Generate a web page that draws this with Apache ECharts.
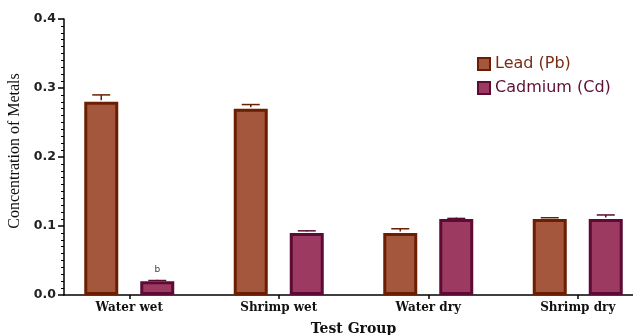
<!DOCTYPE html>
<html>
<head>
<meta charset="utf-8">
<script src="https://cdn.jsdelivr.net/npm/echarts@6/dist/echarts.min.js"></script>
<style>
  html, body { margin: 0; padding: 0; background: #fff; }
  #chart { width: 633px; height: 335px; }
</style>
</head>
<body>
<div id="chart"></div>
<script>
// Metal concentrations per test group (mean and upper error)
const groups = ['Water wet', 'Shrimp wet', 'Water dry', 'Shrimp dry'];
const leadValues = [0.28, 0.27, 0.09, 0.11];
const leadErrors = [0.010, 0.006, 0.006, 0.002];
const cadmiumValues = [0.02, 0.09, 0.11, 0.11];
const cadmiumErrors = [0.001, 0.003, 0.001, 0.006];
const cadmiumMarks = ['b', '', '', ''];
const yTicks = [0, 0.1, 0.2, 0.3, 0.4];

const LEAD_FILL = '#a5573d', LEAD_EDGE = '#6b1f02';
const CD_FILL = '#9d3a61', CD_EDGE = '#5c0b34';
const BAR_W = 34, BAR_GAP = 22, EDGE_W = 3;
const SHIFT = (BAR_W + BAR_GAP) / 2;

function errorSeries(name, values, errors, dir, color) {
  return {
    type: 'custom',
    name: name + ' error',
    xAxisIndex: 0, yAxisIndex: 0,
    silent: true, z: 3,
    data: values.map((v, i) => [i, v, errors[i]]),
    renderItem(params, api) {
      const base = api.coord([api.value(0), api.value(1)]);
      const top = api.coord([api.value(0), api.value(1) + api.value(2)]);
      const x = base[0] + dir * SHIFT;
      const y0 = base[1] - EDGE_W / 2;
      const cap = 9;
      return {
        type: 'group',
        children: [
          { type: 'line', shape: { x1: x, y1: y0, x2: x, y2: top[1] },
            style: { stroke: color, lineWidth: 1.5 } },
          { type: 'line', shape: { x1: x - cap, y1: top[1], x2: x + cap, y2: top[1] },
            style: { stroke: color, lineWidth: 1.5 } }
        ]
      };
    }
  };
}

const chart = echarts.init(document.getElementById('chart'), null, { renderer: 'canvas' });
chart.setOption({
  animation: false,
  backgroundColor: '#fff',
  grid: [
    { left: 54.5, width: 598, top: 19, bottom: 40, outerBoundsMode: 'none', containLabel: false },
    { left: 64, right: 0, top: 19, bottom: 40, outerBoundsMode: 'none', containLabel: false }
  ],
  legend: {
    orient: 'vertical',
    left: 477, top: 56, padding: 0,
    itemWidth: 12, itemHeight: 12, itemGap: 8,
    icon: 'rect',
    textStyle: { fontFamily: 'DejaVu Sans', fontSize: 16 },
    data: [
      { name: 'Lead (Pb)', itemStyle: { color: LEAD_FILL, borderColor: LEAD_EDGE, borderWidth: 2 },
        textStyle: { color: '#7a2c12' } },
      { name: 'Cadmium (Cd)', itemStyle: { color: CD_FILL, borderColor: CD_EDGE, borderWidth: 2 },
        textStyle: { color: '#5e0f36' } }
    ]
  },
  xAxis: [
    {
      gridIndex: 0, type: 'category', data: groups,
      axisLine: { show: false },
      axisTick: { show: true, alignWithLabel: true, length: 4, lineStyle: { color: '#000', width: 1.5 } },
      axisLabel: { fontFamily: 'DejaVu Serif', fontWeight: 'bold', fontSize: 12, color: '#111', margin: 7 },
      name: 'Test Group', nameLocation: 'middle', nameGap: 27,
      nameTextStyle: { fontFamily: 'DejaVu Serif', fontWeight: 'bold', fontSize: 14, color: '#111' }
    },
    {
      gridIndex: 1, type: 'value', min: 0, max: 1,
      axisLine: { show: true, lineStyle: { color: '#000', width: 1.5 } },
      axisTick: { show: false }, axisLabel: { show: false }, splitLine: { show: false }
    }
  ],
  yAxis: [
    { gridIndex: 0, type: 'value', min: 0, max: 0.4, show: false, splitLine: { show: false } },
    {
      gridIndex: 1, type: 'value', min: yTicks[0], max: yTicks[yTicks.length - 1], interval: 0.1,
      axisLine: { show: true, lineStyle: { color: '#000', width: 1.5 } },
      axisTick: { show: true, length: 6, lineStyle: { color: '#000', width: 1.5 } },
      minorTick: { show: true, splitNumber: 10, length: 3, lineStyle: { color: '#000', width: 1 } },
      splitLine: { show: false },
      axisLabel: { fontFamily: 'DejaVu Sans', fontWeight: 'bold', fontSize: 12.5, color: '#222', margin: 8,
        formatter: v => v.toFixed(1) },
      name: 'Concentration of Metals', nameLocation: 'middle', nameGap: 39,
      nameTextStyle: { fontFamily: 'Liberation Serif', fontSize: 16, color: '#111', padding: [0, 0, 0, 12] }
    }
  ],
  series: [
    {
      name: 'Lead (Pb)', type: 'bar', xAxisIndex: 0, yAxisIndex: 0,
      barWidth: BAR_W, barGap: (BAR_GAP / BAR_W * 100) + '%',
      itemStyle: { color: LEAD_FILL, borderColor: LEAD_EDGE, borderWidth: EDGE_W },
      data: leadValues
    },
    {
      name: 'Cadmium (Cd)', type: 'bar', xAxisIndex: 0, yAxisIndex: 0,
      barWidth: BAR_W,
      itemStyle: { color: CD_FILL, borderColor: CD_EDGE, borderWidth: EDGE_W },
      data: cadmiumValues.map((v, i) => cadmiumMarks[i]
        ? { value: v, label: { show: true, position: 'top', distance: 7, formatter: cadmiumMarks[i],
            fontFamily: 'DejaVu Sans', fontSize: 9, color: '#444' } }
        : v)
    },
    errorSeries('Lead (Pb)', leadValues, leadErrors, -1, LEAD_EDGE),
    errorSeries('Cadmium (Cd)', cadmiumValues, cadmiumErrors, 1, CD_EDGE)
  ]
});
</script>
</body>
</html>
